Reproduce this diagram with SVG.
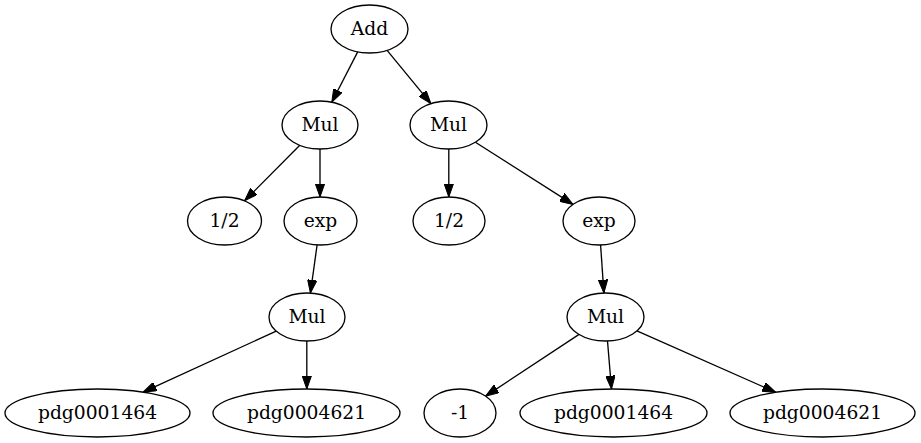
<svg xmlns="http://www.w3.org/2000/svg" width="921" height="443" viewBox="0 0 921 443">
<style>
.node ellipse{fill:none;stroke:#000;stroke-width:1.33}
.node text{font-family:"DejaVu Serif",serif;font-size:18.7px;fill:#000;text-anchor:middle}
.edges line{stroke:#000;stroke-width:1.33;marker-end:url(#arr)}
</style>
<defs>
<marker id="arr" markerUnits="userSpaceOnUse" viewBox="0 0 13.3 9.4" markerWidth="13.3" markerHeight="9.4" refX="13.3" refY="4.7" orient="auto">
<path d="M0,0 L13.3,4.7 L0,9.4 Z" fill="#000" stroke="#000" stroke-width="1"/>
</marker>
</defs>
<rect width="921" height="443" fill="#fff"/>
<g class="edges">
<line x1="357.7" y1="51.9" x2="331.8" y2="102.2"/>
<line x1="387.1" y1="50.4" x2="430.9" y2="103.6"/>
<line x1="299.8" y1="145.3" x2="244.6" y2="200.8"/>
<line x1="320" y1="149" x2="320" y2="197"/>
<line x1="448.8" y1="149" x2="448.8" y2="197"/>
<line x1="475.4" y1="142.2" x2="573" y2="204.4"/>
<line x1="317.1" y1="244.9" x2="310.4" y2="293.1"/>
<line x1="600.6" y1="245" x2="603.9" y2="293"/>
<line x1="276.2" y1="331.1" x2="143.1" y2="392.1"/>
<line x1="306.8" y1="341" x2="306.8" y2="389"/>
<line x1="579.1" y1="334.4" x2="485.6" y2="396.1"/>
<line x1="607.5" y1="341" x2="611.5" y2="389"/>
<line x1="636.9" y1="330.9" x2="775.7" y2="392.3"/>
</g>
<g id="add" class="node"><ellipse cx="369.5" cy="29" rx="38.5" ry="24"/><text x="369.5" y="34.5">Add</text></g>
<g id="mul1" class="node"><ellipse cx="320" cy="125" rx="38" ry="24"/><text x="320" y="130.5">Mul</text></g>
<g id="mul2" class="node"><ellipse cx="448.5" cy="125" rx="38.5" ry="24"/><text x="448.5" y="130.5">Mul</text></g>
<g id="half1" class="node"><ellipse cx="224.5" cy="221" rx="37" ry="24"/><text x="224.5" y="226.5">1/2</text></g>
<g id="exp1" class="node"><ellipse cx="320.5" cy="221" rx="36.5" ry="24"/><text x="320.5" y="226.5">exp</text></g>
<g id="half2" class="node"><ellipse cx="449" cy="221" rx="36" ry="24"/><text x="449" y="226.5">1/2</text></g>
<g id="exp2" class="node"><ellipse cx="599" cy="221" rx="36" ry="24"/><text x="599" y="226.5">exp</text></g>
<g id="mul3" class="node"><ellipse cx="307" cy="317" rx="38" ry="24"/><text x="307" y="322.5">Mul</text></g>
<g id="mul4" class="node"><ellipse cx="605.5" cy="317" rx="38.5" ry="24"/><text x="605.5" y="322.5">Mul</text></g>
<g id="p1" class="node"><ellipse cx="97.5" cy="413" rx="92.5" ry="24"/><text x="97.5" y="418.5">pdg0001464</text></g>
<g id="p2" class="node"><ellipse cx="306.5" cy="413" rx="93.5" ry="24"/><text x="306.5" y="418.5">pdg0004621</text></g>
<g id="m1" class="node"><ellipse cx="460" cy="413" rx="36" ry="24"/><text x="460" y="418.5">-1</text></g>
<g id="p3" class="node"><ellipse cx="613.5" cy="413" rx="93.5" ry="24"/><text x="613.5" y="418.5">pdg0001464</text></g>
<g id="p4" class="node"><ellipse cx="822.5" cy="413" rx="92.5" ry="24"/><text x="822.5" y="418.5">pdg0004621</text></g>
</svg>
